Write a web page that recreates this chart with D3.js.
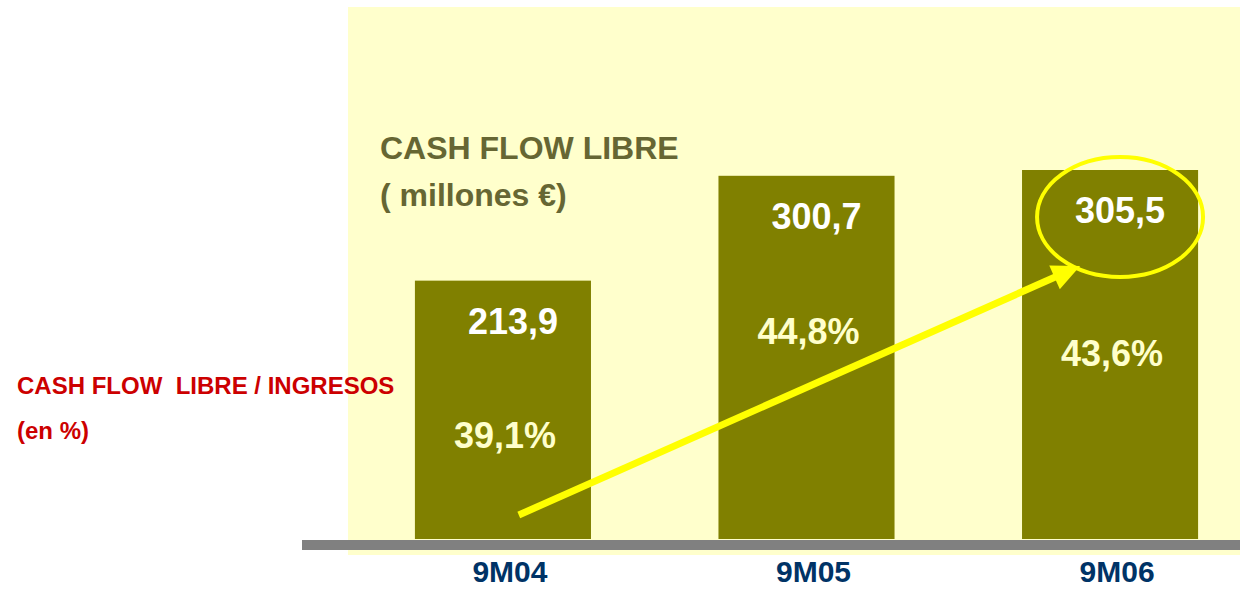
<!DOCTYPE html>
<html lang="es">
  <head>
    <meta charset="UTF-8" />
    <title>Cash Flow Libre</title>
    <style>
      body { margin: 0; background: #fff; }
      text { font-family: "Liberation Sans", Arial, sans-serif; font-weight: bold; }
      .bar { fill: #808000; }
      .value-label { fill: #ffffff; font-size: 36px; }
      .pct-label { fill: #ffffcc; font-size: 36px; }
      .cat-label { fill: #003366; font-size: 30px; }
      .title { fill: #666633; font-size: 32px; }
      .side-note { fill: #cc0000; font-size: 24px; }
    </style>
  </head>
  <body>
    <script src="https://cdn.jsdelivr.net/npm/d3@7"></script>
    <script>

      // data
      var periods = ["9M04", "9M05", "9M06"];
      var cashFlow = [213.9, 300.7, 305.5];      // millones €
      var cashFlowPct = [39.1, 44.8, 43.6];      // cash flow libre / ingresos (%)
      var valueText = ["213,9", "300,7", "305,5"];
      var pctText = ["39,1%", "44,8%", "43,6%"];

      var w = 1240, h = 590;
      var baseline = 539;

      var svg = d3.select("body").append("svg")
        .attr("width", w)
        .attr("height", h);

      // pale yellow panel behind the bars
      svg.append("rect")
        .attr("x", 348).attr("y", 7)
        .attr("width", w - 348).attr("height", 548)
        .attr("fill", "#ffffcc");

      var xScale = d3.scaleBand()
        .domain(periods)
        .range([380, 1233])
        .paddingInner(0.42)
        .paddingOuter(0.115);

      var yScale = d3.scaleLinear()
        .domain([0, 305.5])
        .range([baseline, baseline - 369]);

      // percent labels sit on their own scale
      var pScale = d3.scaleLinear()
        .domain([39.1, 44.8])
        .range([448, 344]);

      var data = periods.map(function(p, i) {
        return { period: p, value: cashFlow[i], pct: cashFlowPct[i], vText: valueText[i], pText: pctText[i] };
      });

      svg.selectAll(".bar")
        .data(data)
        .enter()
        .append("rect")
        .attr("class", "bar")
        .attr("x", function(d) { return xScale(d.period); })
        .attr("y", function(d) { return yScale(d.value); })
        .attr("width", xScale.bandwidth())
        .attr("height", function(d) { return baseline - yScale(d.value); });

      // gray base line
      svg.append("rect")
        .attr("x", 302).attr("y", 540)
        .attr("width", w - 302).attr("height", 10)
        .attr("fill", "#808080");

      svg.selectAll(".value-label")
        .data(data)
        .enter()
        .append("text")
        .attr("class", "value-label")
        .attr("text-anchor", "middle")
        .attr("x", function(d) { return xScale(d.period) + xScale.bandwidth() / 2 + 10; })
        .attr("y", function(d) { return yScale(d.value) + 53; })
        .text(function(d) { return d.vText; });

      svg.selectAll(".pct-label")
        .data(data)
        .enter()
        .append("text")
        .attr("class", "pct-label")
        .attr("text-anchor", "middle")
        .attr("x", function(d) { return xScale(d.period) + xScale.bandwidth() / 2 + 2; })
        .attr("y", function(d) { return pScale(d.pct); })
        .text(function(d) { return d.pText; });

      svg.selectAll(".cat-label")
        .data(data)
        .enter()
        .append("text")
        .attr("class", "cat-label")
        .attr("text-anchor", "middle")
        .attr("x", function(d) { return xScale(d.period) + xScale.bandwidth() / 2 + 7; })
        .attr("y", 582)
        .text(function(d) { return d.period; });

      // trend arrow
      var bw = xScale.bandwidth();
      var ax1 = xScale("9M04") + bw * 0.59, ay1 = baseline - 24;
      var ax2 = xScale("9M06") + bw * 0.33, ay2 = baseline - 273;
      var ang = Math.atan2(ay2 - ay1, ax2 - ax1);
      var headLen = 28, headW = 13;
      var bx = ax2 - headLen * Math.cos(ang), by = ay2 - headLen * Math.sin(ang);

      svg.append("line")
        .attr("x1", ax1).attr("y1", ay1)
        .attr("x2", bx + 2 * Math.cos(ang)).attr("y2", by + 2 * Math.sin(ang))
        .attr("stroke", "#ffff00")
        .attr("stroke-width", 7);

      svg.append("path")
        .attr("d", "M" + ax2 + "," + ay2 +
                   "L" + (bx - headW * Math.sin(ang)) + "," + (by + headW * Math.cos(ang)) +
                   "L" + (bx + headW * Math.sin(ang)) + "," + (by - headW * Math.cos(ang)) + "Z")
        .attr("fill", "#ffff00");

      // highlight ellipse round the last value
      var last = data[data.length - 1];
      svg.append("ellipse")
        .attr("cx", xScale(last.period) + bw / 2 + 10)
        .attr("cy", yScale(last.value) + 47)
        .attr("rx", 83)
        .attr("ry", 60)
        .attr("fill", "none")
        .attr("stroke", "#ffff00")
        .attr("stroke-width", 4);

      svg.append("text").attr("class", "title")
        .attr("x", 380).attr("y", 159)
        .text("CASH FLOW LIBRE");
      svg.append("text").attr("class", "title")
        .attr("x", 380).attr("y", 206)
        .text("( millones €)");

      svg.append("text").attr("class", "side-note")
        .attr("x", 17).attr("y", 394)
        .attr("xml:space", "preserve")
        .style("white-space", "pre")
        .text("CASH FLOW  LIBRE / INGRESOS");
      svg.append("text").attr("class", "side-note")
        .attr("x", 17).attr("y", 439)
        .text("(en %)");

    </script>
  </body>
</html>
